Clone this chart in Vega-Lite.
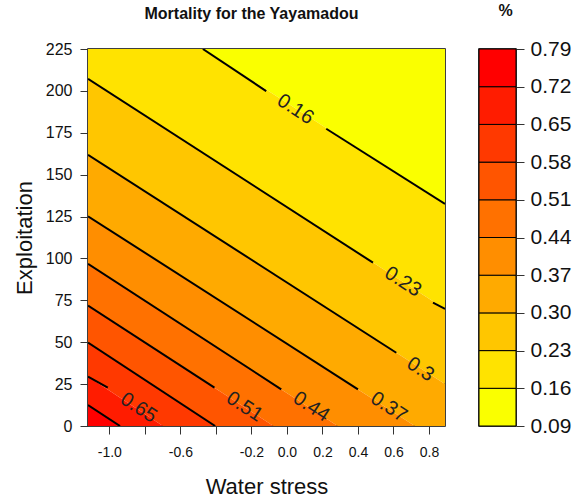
{
  "$schema": "https://vega.github.io/schema/vega-lite/v6.json",
  "padding": {"left": 12, "top": 2, "right": 0, "bottom": 0},
  "bounds": "flush",
  "spacing": 34,
  "config": {
    "font": "Liberation Sans",
    "view": {"stroke": "black", "strokeWidth": 1.5},
    "axis": {"grid": false, "domain": false, "tickColor": "#333", "labelColor": "#111", "titleColor": "#111", "titleFontWeight": "normal", "labelFlush": false, "labelOverlap": false},
    "title": {"fontWeight": "bold", "fontSize": 16, "color": "#111"}
  },
  "datasets": {
    "bands": [
      {"band": "0.09-0.16", "lo": 0.09, "hi": 0.16},
      {"band": "0.16-0.23", "lo": 0.16, "hi": 0.23},
      {"band": "0.23-0.30", "lo": 0.23, "hi": 0.30},
      {"band": "0.30-0.37", "lo": 0.30, "hi": 0.37},
      {"band": "0.37-0.44", "lo": 0.37, "hi": 0.44},
      {"band": "0.44-0.51", "lo": 0.44, "hi": 0.51},
      {"band": "0.51-0.58", "lo": 0.51, "hi": 0.58},
      {"band": "0.58-0.65", "lo": 0.58, "hi": 0.65},
      {"band": "0.65-0.72", "lo": 0.65, "hi": 0.72},
      {"band": "0.72-0.79", "lo": 0.72, "hi": 0.79}
    ],
    "fill": [
      {"band": "0.09-0.16", "x": -1.12, "ylo": 268.9, "y": 400},
      {"band": "0.09-0.16", "x": 0.89, "ylo": 132.5, "y": 400},
      {"band": "0.16-0.23", "x": -1.12, "ylo": 207.2, "y": 268.9},
      {"band": "0.16-0.23", "x": 0.89, "ylo": 69.9, "y": 132.5},
      {"band": "0.23-0.30", "x": -1.12, "ylo": 161.9, "y": 207.2},
      {"band": "0.23-0.30", "x": 0.89, "ylo": 25.1, "y": 69.9},
      {"band": "0.30-0.37", "x": -1.12, "ylo": 125.2, "y": 161.9},
      {"band": "0.30-0.37", "x": 0.89, "ylo": -11.5, "y": 25.1},
      {"band": "0.37-0.44", "x": -1.12, "ylo": 96.8, "y": 125.2},
      {"band": "0.37-0.44", "x": 0.89, "ylo": -41.6, "y": -11.5},
      {"band": "0.44-0.51", "x": -1.12, "ylo": 71.9, "y": 96.8},
      {"band": "0.44-0.51", "x": 0.89, "ylo": -66.5, "y": -41.6},
      {"band": "0.51-0.58", "x": -1.12, "ylo": 49.8, "y": 71.9},
      {"band": "0.51-0.58", "x": 0.89, "ylo": -90.1, "y": -66.5},
      {"band": "0.58-0.65", "x": -1.12, "ylo": 29.5, "y": 49.8},
      {"band": "0.58-0.65", "x": 0.89, "ylo": -111.0, "y": -90.1},
      {"band": "0.65-0.72", "x": -1.12, "ylo": 12.5, "y": 29.5},
      {"band": "0.65-0.72", "x": 0.89, "ylo": -126.9, "y": -111.0},
      {"band": "0.72-0.79", "x": -1.12, "ylo": -200, "y": 12.5},
      {"band": "0.72-0.79", "x": 0.89, "ylo": -300, "y": -126.9}
    ],
    "lines": [
      {"seg": "16a", "x": -0.4732, "y": 225.0},
      {"seg": "16a", "x": -0.1166, "y": 199.9},
      {"seg": "16b", "x": 0.2214, "y": 177.4},
      {"seg": "16b", "x": 0.89, "y": 132.5},
      {"seg": "23a", "x": -1.12, "y": 207.2},
      {"seg": "23a", "x": 0.4845, "y": 97.5},
      {"seg": "23b", "x": 0.8225, "y": 73.6},
      {"seg": "23b", "x": 0.89, "y": 69.9},
      {"seg": "30a", "x": -1.12, "y": 161.9},
      {"seg": "30a", "x": 0.6158, "y": 43.7},
      {"seg": "37a", "x": -1.12, "y": 125.2},
      {"seg": "37a", "x": 0.4, "y": 21.9},
      {"seg": "44a", "x": -1.12, "y": 96.8},
      {"seg": "44a", "x": -0.032, "y": 21.9},
      {"seg": "51a", "x": -1.12, "y": 71.9},
      {"seg": "51a", "x": -0.4079, "y": 22.9},
      {"seg": "58a", "x": -1.12, "y": 49.8},
      {"seg": "58a", "x": -0.404, "y": 0},
      {"seg": "65a", "x": -1.12, "y": 29.5},
      {"seg": "65a", "x": -1.0085, "y": 22.9},
      {"seg": "72a", "x": -1.12, "y": 12.5},
      {"seg": "72a", "x": -0.9397, "y": 0}
    ],
    "labels": [
      {"label": "0.16", "x": 0.048, "y": 189.0},
      {"label": "0.23", "x": 0.653, "y": 86.1},
      {"label": "0.3", "x": 0.752, "y": 33.8},
      {"label": "0.37", "x": 0.5735, "y": 11.3},
      {"label": "0.44", "x": 0.137, "y": 11.5},
      {"label": "0.51", "x": -0.239, "y": 11.5},
      {"label": "0.65", "x": -0.835, "y": 10.9}
    ]
  },
  "hconcat": [
    {
      "width": 357,
      "height": 377,
      "title": {"text": "Mortality for the Yayamadou", "anchor": "middle", "offset": 19, "dx": -15},
      "encoding": {
        "x": {
          "field": "x", "type": "quantitative",
          "scale": {"domain": [-1.12, 0.89], "nice": false, "zero": false},
          "axis": {
            "title": "Water stress",
            "values": [-1, -0.8, -0.6, -0.4, -0.2, 0, 0.2, 0.4, 0.6, 0.8],
            "labelExpr": "(datum.value < -0.75 && datum.value > -0.85) || (datum.value < -0.35 && datum.value > -0.45) ? '' : (datum.value < -0.001 ? '-' + format(-datum.value, '.1f') : format(datum.value, '.1f'))",
            "labelFontSize": 14, "tickSize": 8, "labelPadding": 11,
            "titleFontSize": 22, "titlePadding": 17
          }
        },
        "y": {
          "field": "y", "type": "quantitative",
          "scale": {"domain": [0, 225], "nice": false, "zero": false},
          "axis": {
            "title": "Exploitation",
            "values": [0, 25, 50, 75, 100, 125, 150, 175, 200, 225],
            "labelAngle": 0,
            "labelFontSize": 16, "tickSize": 8, "labelPadding": 8,
            "titleFontSize": 22, "titlePadding": 9
          }
        }
      },
      "layer": [
        {
          "data": {"name": "fill"},
          "mark": {"type": "area", "clip": true},
          "encoding": {
            "y2": {"field": "ylo"},
            "color": {
              "field": "band", "type": "nominal", "legend": null,
              "scale": {
                "domain": ["0.09-0.16", "0.16-0.23", "0.23-0.30", "0.30-0.37", "0.37-0.44", "0.44-0.51", "0.51-0.58", "0.58-0.65", "0.65-0.72", "0.72-0.79"],
                "range": ["#FAFF00", "#FFE300", "#FFC600", "#FFAA00", "#FF8E00", "#FF7100", "#FF5500", "#FF3900", "#FF1C00", "#FF0000"]
              }
            }
          }
        },
        {
          "data": {"name": "lines"},
          "mark": {"type": "line", "color": "black", "strokeWidth": 2, "clip": true},
          "encoding": {"detail": {"field": "seg"}}
        },
        {
          "data": {"name": "labels"},
          "mark": {"type": "text", "angle": 33, "fontSize": 20, "color": "#222", "align": "center", "baseline": "middle"},
          "encoding": {"text": {"field": "label"}}
        }
      ]
    },
    {
      "width": 37,
      "height": 377,
      "title": {"text": "%", "anchor": "middle", "offset": 19, "dx": 8},
      "data": {"name": "bands"},
      "mark": {"type": "rect", "stroke": "black", "strokeWidth": 1},
      "encoding": {
        "y": {
          "field": "lo", "type": "quantitative",
          "scale": {"domain": [0.09, 0.79], "nice": false, "zero": false},
          "axis": {
            "orient": "right", "title": null,
            "values": [0.09, 0.16, 0.23, 0.30, 0.37, 0.44, 0.51, 0.58, 0.65, 0.72, 0.79],
            "format": ".2f", "labelFontSize": 21, "tickSize": 8, "labelPadding": 6
          }
        },
        "y2": {"field": "hi"},
        "color": {
          "field": "band", "type": "nominal", "legend": null,
          "scale": {
            "domain": ["0.09-0.16", "0.16-0.23", "0.23-0.30", "0.30-0.37", "0.37-0.44", "0.44-0.51", "0.51-0.58", "0.58-0.65", "0.65-0.72", "0.72-0.79"],
            "range": ["#FAFF00", "#FFE300", "#FFC600", "#FFAA00", "#FF8E00", "#FF7100", "#FF5500", "#FF3900", "#FF1C00", "#FF0000"]
          }
        }
      }
    }
  ]
}
